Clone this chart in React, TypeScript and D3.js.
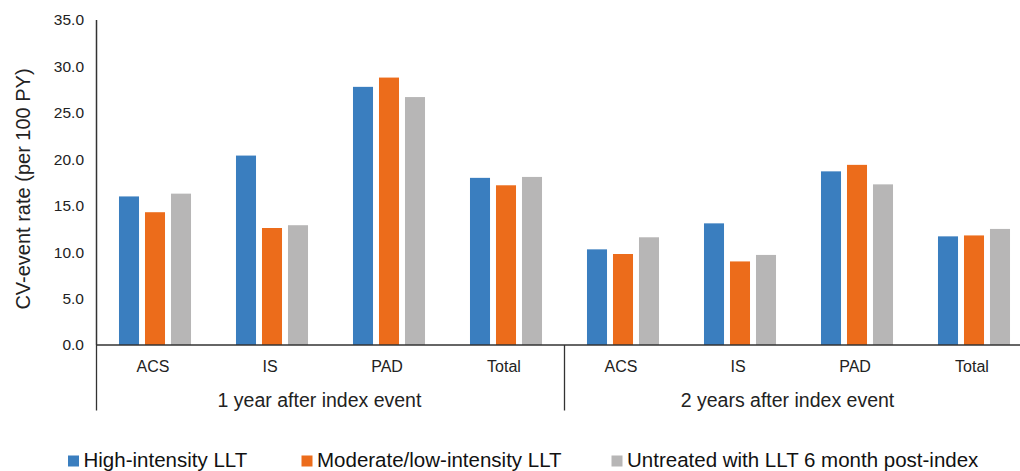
import { useEffect, useRef } from 'react';
import * as d3 from 'd3';

// ─── Data ──────────────────────────────────────────────
const periods = ['1 year after index event', '2 years after index event'];
const categories = ['ACS', 'IS', 'PAD', 'Total'];
const seriesNames = [
  'High-intensity LLT',
  'Moderate/low-intensity LLT',
  'Untreated with LLT 6 month post-index',
];
const seriesColors = ['#3a7ebf', '#ec6c1b', '#b7b6b6'];

// values per series, ordered [1y ACS, IS, PAD, Total, 2y ACS, IS, PAD, Total]
const highIntensity = [16.0, 20.4, 27.8, 18.0, 10.3, 13.1, 18.7, 11.7];
const moderateLow = [14.3, 12.6, 28.8, 17.2, 9.8, 9.0, 19.4, 11.8];
const untreated = [16.3, 12.9, 26.7, 18.1, 11.6, 9.7, 17.3, 12.5];
const seriesValues = [highIntensity, moderateLow, untreated];

const yTicks = [0, 5, 10, 15, 20, 25, 30, 35];

const W = 1020;
const H = 471;
const FONT = '"Liberation Sans", Arial, sans-serif';

export default function App() {
  const svgRef = useRef<SVGSVGElement>(null);

  useEffect(() => {
    if (!svgRef.current) return;
    const svg = d3.select(svgRef.current);
    svg.selectAll('*').remove();

    const left = 96.5;
    const top = 20;
    const bottom = 345;
    const step = 117;

    const keys = periods.flatMap((p, pi) => categories.map((c) => `${pi}-${c}`));

    const x0 = d3
      .scaleBand<string>()
      .domain(keys)
      .range([left, left + step * keys.length])
      .padding(0);

    const x1 = d3
      .scaleBand<number>()
      .domain(d3.range(seriesNames.length))
      .range([0, x0.bandwidth()])
      .paddingInner(0.23)
      .paddingOuter(0.865);

    const y = d3.scaleLinear().domain([0, 35]).range([bottom, top]);

    // ─── Bars ────────────────────────────────────────
    const g = svg.append('g');
    seriesValues.forEach((vals, si) => {
      g.selectAll(`.bar-${si}`)
        .data(vals)
        .join('rect')
        .attr('x', (_, i) => (x0(keys[i]) ?? 0) + (x1(si) ?? 0))
        .attr('y', (d) => y(d))
        .attr('width', x1.bandwidth())
        .attr('height', (d) => y(0) - y(d))
        .attr('fill', seriesColors[si]);
    });

    // ─── Y axis ──────────────────────────────────────
    svg
      .append('line')
      .attr('x1', left)
      .attr('x2', left)
      .attr('y1', y(35))
      .attr('y2', y(0))
      .attr('stroke', '#333')
      .attr('stroke-width', 1.5);

    svg
      .append('g')
      .selectAll('text')
      .data(yTicks)
      .join('text')
      .attr('x', 84)
      .attr('y', (d) => y(d))
      .attr('dy', '0.35em')
      .attr('text-anchor', 'end')
      .attr('font-family', FONT)
      .attr('font-size', 15.5)
      .attr('fill', '#222')
      .text((d) => d3.format('.1f')(d));

    svg
      .append('text')
      .attr('transform', `translate(30, 189) rotate(-90)`)
      .attr('text-anchor', 'middle')
      .attr('font-family', FONT)
      .attr('font-size', 20)
      .attr('fill', '#222')
      .text('CV-event rate (per 100 PY)');

    // ─── X axis ──────────────────────────────────────
    svg
      .append('line')
      .attr('x1', left)
      .attr('x2', W)
      .attr('y1', y(0))
      .attr('y2', y(0))
      .attr('stroke', '#333')
      .attr('stroke-width', 1.5);

    // group separators
    [0, 1].forEach((pi) => {
      const xs = x0(`${pi}-${categories[0]}`) ?? 0;
      svg
        .append('line')
        .attr('x1', xs)
        .attr('x2', xs)
        .attr('y1', y(0))
        .attr('y2', 410.5)
        .attr('stroke', '#333')
        .attr('stroke-width', 1.3);
    });

    svg
      .append('g')
      .selectAll('text')
      .data(keys)
      .join('text')
      .attr('x', (d) => (x0(d) ?? 0) + x0.bandwidth() / 2 - 2)
      .attr('y', 372)
      .attr('text-anchor', 'middle')
      .attr('font-family', FONT)
      .attr('font-size', 16)
      .attr('fill', '#222')
      .text((d) => d.split('-')[1]);

    svg
      .append('g')
      .selectAll('text')
      .data(periods)
      .join('text')
      .attr('x', (_, pi) => {
        const a = x0(`${pi}-${categories[0]}`) ?? 0;
        const b = (x0(`${pi}-${categories[categories.length - 1]}`) ?? 0) + x0.bandwidth();
        return (a + b) / 2 - 11;
      })
      .attr('y', 406.5)
      .attr('text-anchor', 'middle')
      .attr('font-family', FONT)
      .attr('font-size', 19.5)
      .attr('fill', '#222')
      .text((d) => d);

    // ─── Legend ──────────────────────────────────────
    const legendX = [68, 301.5, 611.5];
    const legend = svg
      .append('g')
      .selectAll('g')
      .data(seriesNames)
      .join('g')
      .attr('transform', (_, i) => `translate(${legendX[i]}, 455.5)`);

    legend
      .append('rect')
      .attr('width', 11)
      .attr('height', 11)
      .attr('fill', (_, i) => seriesColors[i]);

    legend
      .append('text')
      .attr('x', 15.5)
      .attr('y', 11)
      .attr('font-family', FONT)
      .attr('font-size', 20.5)
      .attr('fill', '#111')
      .text((d) => d);
  }, []);

  return (
    <div style={{ position: 'absolute', left: 0, top: 0, width: W, height: H, background: '#fff' }}>
      <svg ref={svgRef} width={W} height={H} />
    </div>
  );
}
